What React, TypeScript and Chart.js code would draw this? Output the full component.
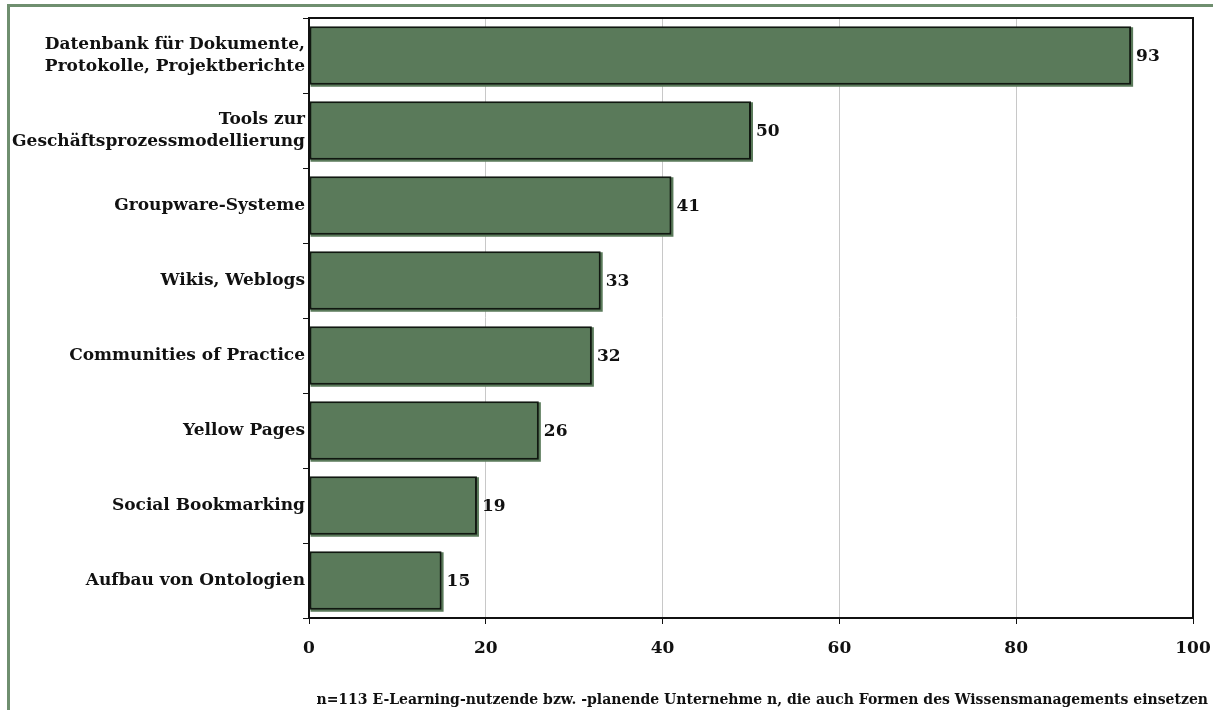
import React, { useEffect, useRef } from "react";
import { Chart, registerables } from "chart.js";

Chart.register(...registerables);

const categories: (string | string[])[] = [
  ["Datenbank für Dokumente,", "Protokolle, Projektberichte"],
  ["Tools zur", "Geschäftsprozessmodellierung"],
  "Groupware-Systeme",
  "Wikis, Weblogs",
  "Communities of Practice",
  "Yellow Pages",
  "Social Bookmarking",
  "Aufbau von Ontologien",
];

const values: number[] = [93, 50, 41, 33, 32, 26, 19, 15];

const xTicks: number[] = [0, 20, 40, 60, 80, 100];

const footnote =
  "n=113 E-Learning-nutzende bzw. -planende Unternehme n, die auch Formen des Wissensmanagements einsetzen";

const FONT = "'DejaVu Serif', serif";
const BAR_FILL = "#5a7a5a";
const FRAME_GREEN = "#6f8f6f";

const decorations = {
  id: "decorations",
  beforeDraw(chart: Chart) {
    const { ctx, width, height } = chart;
    ctx.save();
    ctx.fillStyle = "#ffffff";
    ctx.fillRect(0, 0, width, height);
    // outer green frame
    ctx.strokeStyle = FRAME_GREEN;
    ctx.lineWidth = 3;
    ctx.strokeRect(8.5, 5.5, width + 20, height + 20);
    ctx.restore();
  },
  beforeDatasetsDraw(chart: Chart) {
    const { ctx } = chart;
    const meta = chart.getDatasetMeta(0);
    ctx.save();
    ctx.fillStyle = BAR_FILL;
    meta.data.forEach((el: any) => {
      const left = Math.min(el.base, el.x);
      const right = Math.max(el.base, el.x);
      ctx.fillRect(left + 1, el.y - el.height / 2 + 1, right - left + 1, el.height + 1);
    });
    ctx.restore();
  },
  afterDatasetsDraw(chart: Chart) {
    const { ctx, chartArea } = chart;
    const meta = chart.getDatasetMeta(0);
    ctx.save();
    // value labels
    ctx.fillStyle = "#111111";
    ctx.font = `bold 17px ${FONT}`;
    ctx.textAlign = "left";
    ctx.textBaseline = "middle";
    meta.data.forEach((el: any, i: number) => {
      ctx.fillText(String(values[i]), el.x + 5, el.y + 1);
    });
    // plot frame
    ctx.strokeStyle = "#111111";
    ctx.lineWidth = 2;
    ctx.strokeRect(
      chartArea.left,
      chartArea.top,
      chartArea.right - chartArea.left,
      chartArea.bottom - chartArea.top
    );
    // footnote
    ctx.font = `bold 14px ${FONT}`;
    ctx.textAlign = "right";
    ctx.textBaseline = "alphabetic";
    ctx.fillText(footnote, 1208, 704);
    ctx.restore();
  },
};

export default function App() {
  const canvasRef = useRef<HTMLCanvasElement | null>(null);

  useEffect(() => {
    document.body.style.margin = "0";
    const canvas = canvasRef.current;
    if (!canvas) return;
    const chart = new Chart(canvas, {
      type: "bar",
      data: {
        labels: categories,
        datasets: [
          {
            data: values,
            backgroundColor: BAR_FILL,
            borderColor: "#111811",
            borderWidth: 2,
            borderSkipped: false,
            barPercentage: 0.78,
            categoryPercentage: 1,
          },
        ],
      },
      options: {
        indexAxis: "y",
        animation: false,
        responsive: false,
        maintainAspectRatio: false,
        layout: { padding: { left: 0, top: 18, right: 20, bottom: 0 } },
        plugins: {
          legend: { display: false },
          tooltip: { enabled: false },
        },
        scales: {
          x: {
            min: 0,
            max: 100,
            afterBuildTicks(scale: any) {
              scale.ticks = xTicks.map((v) => ({ value: v }));
            },
            afterFit(scale: any) {
              scale.height = 92;
              scale.paddingLeft = 0;
              scale.paddingRight = 0;
            },
            grid: {
              color: "#c8c8c8",
              lineWidth: 1,
              tickColor: "#111111",
              tickLength: 6,
            },
            border: { display: true, color: "#111111", width: 2 },
            ticks: {
              color: "#111111",
              padding: 14,
              font: { family: FONT, size: 17, weight: "bold" },
            },
          },
          y: {
            afterFit(scale: any) {
              scale.width = 309;
              scale.paddingTop = 0;
              scale.paddingBottom = 0;
            },
            grid: {
              drawOnChartArea: false,
              offset: true,
              color: "#111111",
              tickLength: 6,
            },
            border: { display: true, color: "#111111", width: 2 },
            ticks: {
              color: "#111111",
              padding: -2,
              font: { family: FONT, size: 17, weight: "bold", lineHeight: 1.25 },
            },
          },
        },
      },
      plugins: [decorations],
    });
    return () => chart.destroy();
  }, []);

  return (
    <div style={{ width: 1213, height: 710, overflow: "hidden" }}>
      <canvas ref={canvasRef} width={1213} height={710} style={{ display: "block" }} />
    </div>
  );
}
